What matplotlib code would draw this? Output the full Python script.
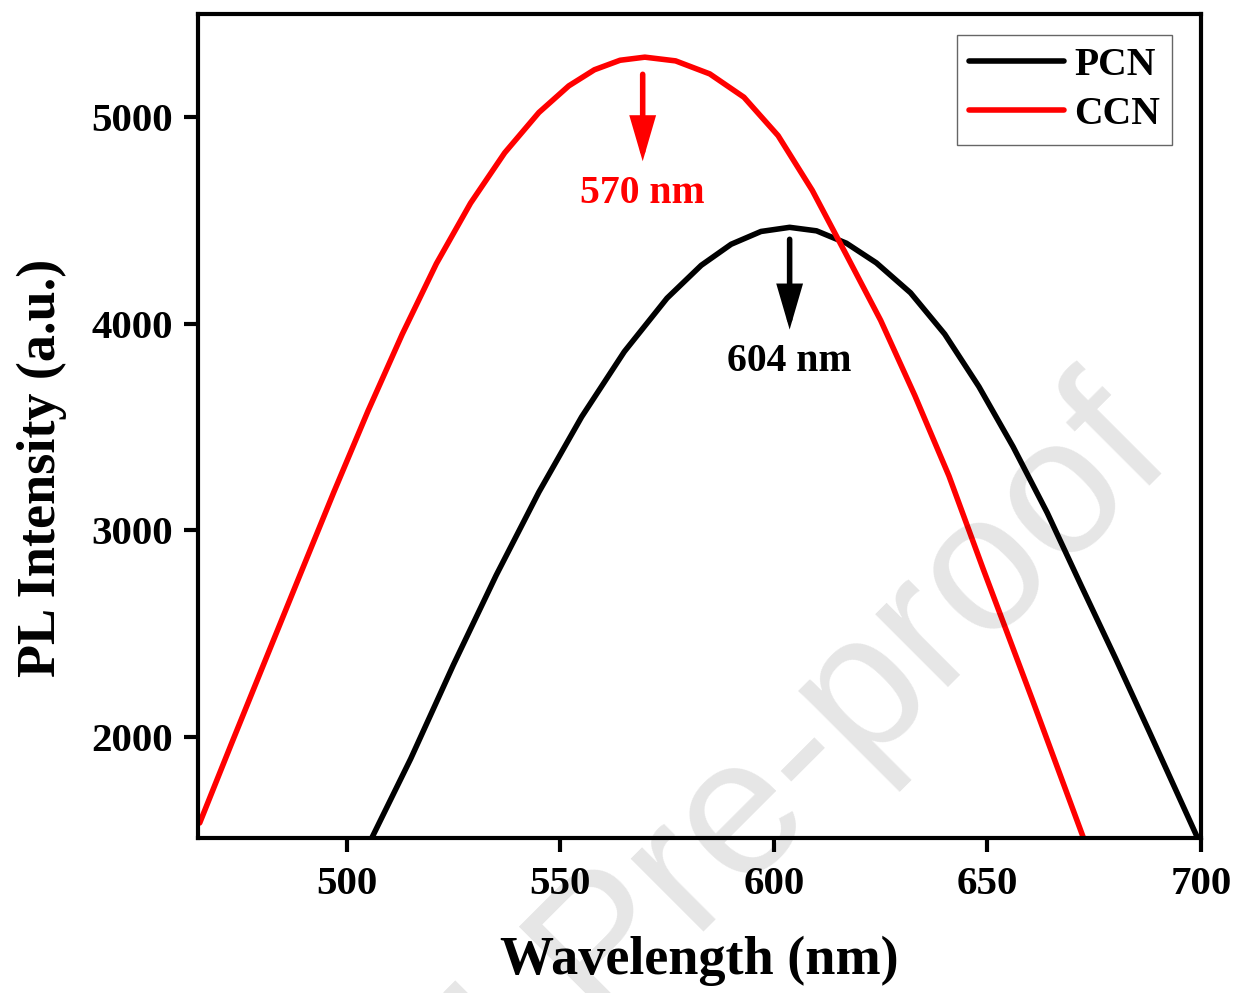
import matplotlib
matplotlib.use("Agg")
import matplotlib.pyplot as plt

# PL spectra (wavelength in nm, intensity in a.u.)
pcn_wl = [506.0, 515, 525, 535, 545, 555, 565, 575, 583, 590, 597, 603.7,
          610, 617, 624, 632, 640, 648, 656, 664, 672, 680, 688, 699.1]
pcn_int = [1515, 1894, 2349, 2782, 3185, 3549, 3865, 4124, 4283, 4385, 4447, 4467,
           4450, 4390, 4295, 4150, 3950, 3696, 3405, 3085, 2730, 2380, 2020, 1515]

ccn_wl = [465.6, 473, 481, 489, 497, 505, 513, 521, 529, 537, 545, 552, 558,
          564, 569.8, 577, 585, 593, 601, 609, 617, 625, 633, 641, 649,
          660.5, 672.4]
ccn_int = [1583, 1965, 2373, 2780, 3185, 3578, 3949, 4291, 4584, 4828, 5023, 5152, 5230,
           5276, 5291, 5273, 5210, 5097, 4911, 4646, 4333, 4017, 3653, 3263, 2813,
           2181, 1515]

x_ticks = [500, 550, 600, 650, 700]
y_ticks = [2000, 3000, 4000, 5000]

peak_labels = ["604 nm", "570 nm"]
peak_pos = [(603.7, 4409, 3972), (569.3, 5208, 4787)]

plt.rcParams["font.family"] = ["Liberation Serif", "DejaVu Serif"]
plt.rcParams["font.weight"] = "bold"

W, H = 1235, 993
fig = plt.figure(figsize=(W / 100, H / 100), dpi=100)
ax = fig.add_axes([198 / W, 1 - 838 / H, (1201 - 198) / W, (838 - 14) / H])

ax.plot(pcn_wl, pcn_int, color="black", lw=4, label="PCN",
        solid_capstyle="round", solid_joinstyle="round")
ax.plot(ccn_wl, ccn_int, color="#ff0000", lw=4, label="CCN",
        solid_capstyle="round", solid_joinstyle="round")

ax.set_xlim(465.2, 700)
ax.set_ylim(1510, 5500)
ax.set_xticks(x_ticks)
ax.set_yticks(y_ticks)

for sp in ax.spines.values():
    sp.set_linewidth(3.0)
ax.tick_params(axis="both", which="major", direction="out", length=10, width=3,
               labelsize=29.5, pad=8)
ax.tick_params(axis="x", pad=10)
for lab in ax.get_xticklabels() + ax.get_yticklabels():
    lab.set_fontweight("bold")

ax.set_xlabel("Wavelength (nm)", fontsize=39, fontweight="bold")
ax.set_ylabel("PL Intensity (a.u.)", fontsize=39, fontweight="bold")
ax.xaxis.set_label_coords(0.5, -0.118)
ax.yaxis.set_label_coords(-0.131, 0.449)

# peak markers
colors = ["black", "#ff0000"]
label_y = [3817, 4630]
for txt, (xp, y0, y1), c, ly in zip(peak_labels, peak_pos, colors, label_y):
    ax.annotate("", xy=(xp, y1), xytext=(xp, y0),
                arrowprops=dict(arrowstyle="-|>,head_length=2.4,head_width=0.7",
                                color=c, lw=4, shrinkA=0, shrinkB=0,
                                joinstyle="miter"))
    ax.text(xp, ly, txt, color=c, fontsize=28.5, fontweight="bold",
            ha="center", va="center")

leg = ax.legend(loc="upper right", bbox_to_anchor=(0.971, 0.9745), borderaxespad=0,
                fontsize=28.5, frameon=True, fancybox=False, handlelength=2.4,
                handletextpad=0.26, borderpad=0.3, labelspacing=0.3)
leg.get_frame().set_edgecolor("#404040")
leg.get_frame().set_linewidth(1.0)
for t in leg.get_texts():
    t.set_fontweight("bold")

# journal watermark
fig.text(114 / W, 1 - 1522 / H, "Journal Pre-proof", fontsize=140,
         family="Liberation Sans", fontweight="normal", color="black", alpha=0.1,
         rotation=45, rotation_mode="anchor", ha="left", va="baseline", zorder=10)

fig.savefig("out.png", dpi=100)
